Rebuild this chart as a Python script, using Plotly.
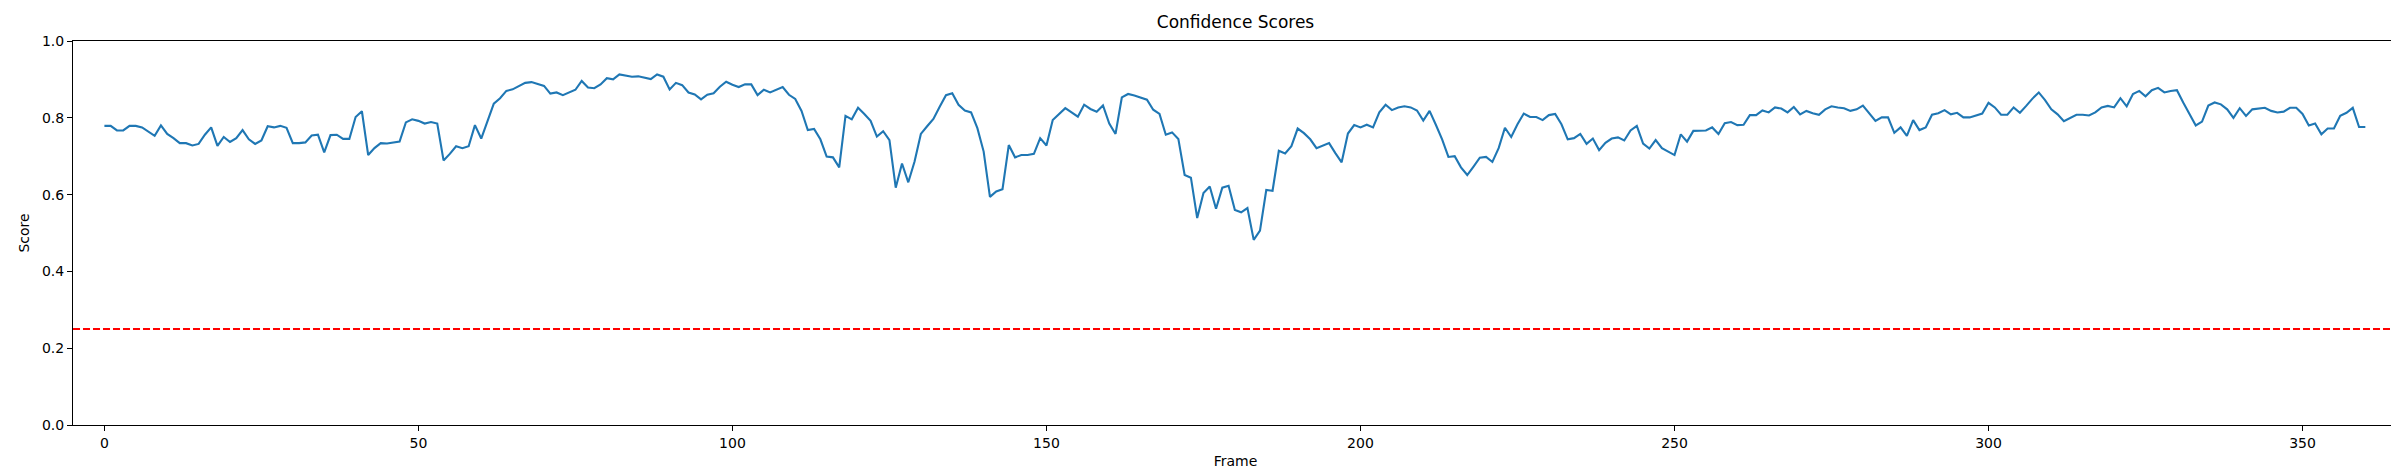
import plotly.graph_objects as go

scores = [
    0.779, 0.779, 0.767, 0.767, 0.779, 0.779, 0.775, 0.764, 0.753, 0.780,
    0.758, 0.747, 0.734, 0.734, 0.728, 0.732, 0.756, 0.775, 0.727, 0.750,
    0.737, 0.747, 0.768, 0.744, 0.732, 0.741, 0.778, 0.775, 0.779, 0.774,
    0.734, 0.734, 0.736, 0.754, 0.756, 0.710, 0.755, 0.756, 0.745, 0.745,
    0.802, 0.817, 0.703, 0.721, 0.734, 0.733, 0.736, 0.738, 0.788, 0.796,
    0.792, 0.785, 0.789, 0.785, 0.689, 0.706, 0.726, 0.721, 0.726, 0.781,
    0.746, 0.791, 0.837, 0.851, 0.870, 0.874, 0.883, 0.891, 0.893, 0.887,
    0.883, 0.863, 0.866, 0.859, 0.866, 0.873, 0.896, 0.879, 0.877, 0.887,
    0.903, 0.900, 0.913, 0.910, 0.907, 0.908, 0.905, 0.901, 0.913, 0.907,
    0.874, 0.891, 0.885, 0.866, 0.861, 0.848, 0.860, 0.864, 0.881, 0.894,
    0.886, 0.880, 0.887, 0.887, 0.859, 0.873, 0.866, 0.873, 0.880, 0.860,
    0.849, 0.818, 0.768, 0.771, 0.744, 0.699, 0.697, 0.671, 0.805, 0.796,
    0.826, 0.810, 0.792, 0.751, 0.765, 0.742, 0.618, 0.681, 0.632, 0.686,
    0.758, 0.778, 0.797, 0.829, 0.859, 0.864, 0.834, 0.819, 0.814, 0.773,
    0.712, 0.594, 0.608, 0.614, 0.729, 0.697, 0.703, 0.703, 0.706, 0.747,
    0.728, 0.794, 0.810, 0.825, 0.814, 0.803, 0.834, 0.823, 0.816, 0.832,
    0.785, 0.758, 0.853, 0.862, 0.858, 0.853, 0.847, 0.821, 0.810, 0.756,
    0.762, 0.745, 0.651, 0.644, 0.539, 0.604, 0.621, 0.563, 0.618, 0.623,
    0.560, 0.554, 0.565, 0.482, 0.506, 0.612, 0.610, 0.714, 0.707, 0.726,
    0.772, 0.760, 0.744, 0.721, 0.727, 0.734, 0.708, 0.684, 0.759, 0.781,
    0.775, 0.782, 0.775, 0.814, 0.834, 0.820, 0.827, 0.830, 0.827, 0.819,
    0.793, 0.818, 0.782, 0.744, 0.698, 0.700, 0.671, 0.651, 0.673, 0.696,
    0.698, 0.685, 0.721, 0.774, 0.750, 0.783, 0.811, 0.802, 0.802, 0.794,
    0.807, 0.810, 0.783, 0.744, 0.747, 0.758, 0.732, 0.746, 0.716, 0.735,
    0.746, 0.749, 0.741, 0.767, 0.779, 0.733, 0.720, 0.742, 0.721, 0.712,
    0.703, 0.757, 0.738, 0.766, 0.766, 0.767, 0.775, 0.758, 0.786, 0.789,
    0.781, 0.782, 0.807, 0.807, 0.819, 0.814, 0.827, 0.824, 0.814, 0.828,
    0.809, 0.818, 0.812, 0.808, 0.822, 0.830, 0.827, 0.825, 0.818, 0.822,
    0.832, 0.813, 0.792, 0.801, 0.801, 0.761, 0.775, 0.753, 0.794, 0.768,
    0.775, 0.808, 0.812, 0.820, 0.809, 0.813, 0.801, 0.801, 0.805, 0.811,
    0.839, 0.827, 0.808, 0.808, 0.827, 0.813, 0.831, 0.850, 0.866, 0.846,
    0.822, 0.809, 0.791, 0.799, 0.808, 0.808, 0.806, 0.814, 0.827, 0.831,
    0.827, 0.851, 0.830, 0.862, 0.870, 0.856, 0.872, 0.878, 0.866, 0.870,
    0.872, 0.840, 0.810, 0.780, 0.790, 0.832, 0.840, 0.835, 0.822, 0.800,
    0.825, 0.805, 0.822, 0.824, 0.826, 0.818, 0.814, 0.816, 0.826, 0.826,
    0.810, 0.780, 0.785, 0.757, 0.772, 0.772, 0.805, 0.813, 0.826, 0.776,
    0.776,
]
frames = list(range(len(scores)))
threshold = 0.25
x_ticks = [0, 50, 100, 150, 200, 250, 300, 350]
y_ticks = [0.0, 0.2, 0.4, 0.6, 0.8, 1.0]

FONT = "DejaVu Sans"

fig = go.Figure()
fig.add_trace(go.Scatter(
    x=frames, y=scores, mode="lines",
    line=dict(color="#1f77b4", width=2.1),
    showlegend=False, hoverinfo="skip",
))
fig.add_shape(
    type="line", xref="paper", yref="y", x0=0, x1=1, y0=threshold, y1=threshold,
    line=dict(color="#ff0000", width=2, dash="7px,3px"), layer="above",
)

axis_common = dict(
    showline=True, linecolor="black", linewidth=1.1, mirror=True,
    ticks="outside", ticklen=5, tickwidth=1.1, tickcolor="black",
    showgrid=False, zeroline=False, automargin=False,
    tickfont=dict(family=FONT, size=14, color="black"),
)

fig.update_layout(
    width=2399, height=472,
    margin=dict(l=65, r=9, t=33, b=55, autoexpand=False),
    paper_bgcolor="white", plot_bgcolor="white",
    title=dict(text="Confidence Scores", x=0.5, xref="paper", xanchor="center",
               y=1, yref="container", yanchor="top", pad=dict(t=8),
               font=dict(family=FONT, size=17, color="black")),
    xaxis=dict(range=[-5, 365.2], tickvals=x_ticks,
               title=dict(text="Frame", font=dict(family=FONT, size=14, color="black"), standoff=6),
               **axis_common),
    yaxis=dict(range=[0, 1], tickvals=y_ticks, tickformat=".1f",
               title=dict(text="Score", font=dict(family=FONT, size=14, color="black"), standoff=8),
               **axis_common),
    font=dict(family=FONT),
)

fig.write_html("out.html")
